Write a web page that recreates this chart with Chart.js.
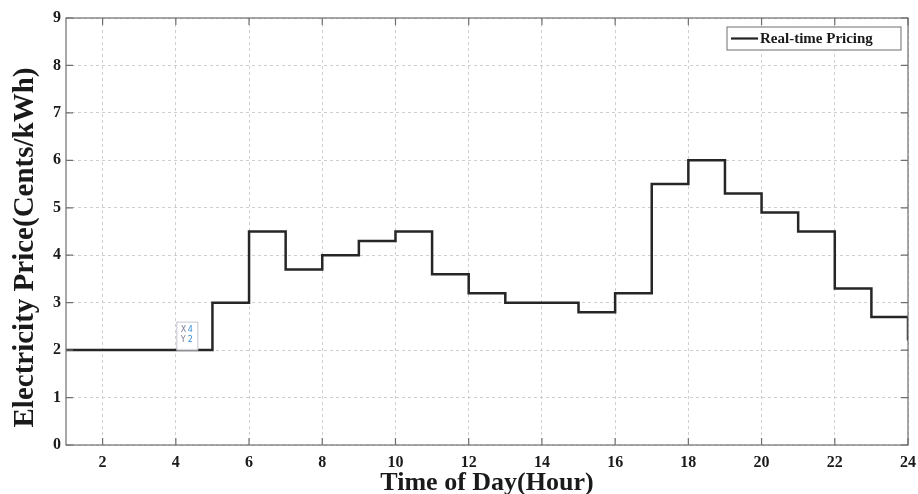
<!DOCTYPE html>
<html>
<head>
<meta charset="utf-8">
<script src="https://cdn.jsdelivr.net/npm/chart.js@4.4.0/dist/chart.umd.min.js"></script>
<style>
  html, body { margin: 0; padding: 0; background: #fff; }
  #wrap { width: 918px; height: 494px; }
</style>
</head>
<body>
<div id="wrap"><canvas id="price_chart" width="918" height="494"></canvas></div>
<script>
const hours = [1, 2, 3, 4, 5, 6, 7, 8, 9, 10, 11, 12, 13, 14, 15, 16, 17, 18, 19, 20, 21, 22, 23, 24];
const prices = [2, 2, 2, 2, 3, 4.5, 3.7, 4.0, 4.3, 4.5, 3.6, 3.2, 3.0, 3.0, 2.8, 3.2, 5.5, 6.0, 5.3, 4.9, 4.5, 3.3, 2.7, 2.2];
const xTickValues = [2, 4, 6, 8, 10, 12, 14, 16, 18, 20, 22, 24];
const yTickValues = [0, 1, 2, 3, 4, 5, 6, 7, 8, 9];
const tipPoint = [4, 2];
const seriesLabel = 'Real-time Pricing';
const yTitle = 'Electricity Price(Cents/kWh)';

const serif = '"Liberation Serif", "Times New Roman", serif';

// matlab style box, inward ticks, y label, legend and data tip
const matlabDecor = {
    id: 'matlabDecor',
    afterDatasetsDraw(chart) {
        const ctx = chart.ctx;
        const a = chart.chartArea;
        const xs = chart.scales.x;
        const ys = chart.scales.y;
        ctx.save();
        ctx.strokeStyle = '#6e6e6e';
        ctx.lineWidth = 1.2;
        ctx.strokeRect(a.left, a.top, a.right - a.left, a.bottom - a.top);
        ctx.beginPath();
        xTickValues.forEach(v => {
            const px = xs.getPixelForValue(v);
            ctx.moveTo(px, a.bottom); ctx.lineTo(px, a.bottom - 7);
            ctx.moveTo(px, a.top); ctx.lineTo(px, a.top + 7);
        });
        yTickValues.forEach(v => {
            const py = ys.getPixelForValue(v);
            ctx.moveTo(a.left, py); ctx.lineTo(a.left + 7, py);
            ctx.moveTo(a.right, py); ctx.lineTo(a.right - 7, py);
        });
        ctx.stroke();

        // y axis label
        ctx.save();
        ctx.translate(26, (a.top + a.bottom) / 2 + 16);
        ctx.rotate(-Math.PI / 2);
        ctx.fillStyle = '#1a1a1a';
        ctx.font = 'bold 29px ' + serif;
        ctx.textAlign = 'center';
        ctx.textBaseline = 'middle';
        ctx.fillText(yTitle, 0, 0);
        ctx.restore();

        // data tip
        const tx = xs.getPixelForValue(tipPoint[0]);
        const ty = ys.getPixelForValue(tipPoint[1]);
        ctx.fillStyle = 'rgba(255,255,255,0.9)';
        ctx.fillRect(tx + 1, ty - 28, 21, 28);
        ctx.strokeStyle = '#c4c4d0';
        ctx.lineWidth = 1;
        ctx.strokeRect(tx + 1, ty - 28, 21, 28);
        ctx.font = '8px "DejaVu Sans", sans-serif';
        ctx.textBaseline = 'middle';
        ctx.textAlign = 'left';
        ctx.fillStyle = '#7a7a96';
        ctx.fillText('X', tx + 5, ty - 20);
        ctx.fillText('Y', tx + 5, ty - 10);
        ctx.fillStyle = '#3a8fd8';
        ctx.fillText(String(tipPoint[0]), tx + 12, ty - 20);
        ctx.fillText(String(tipPoint[1]), tx + 12, ty - 10);

        // legend
        const lx = a.right - 181, ly = a.top + 9, lw = 174, lh = 23;
        ctx.fillStyle = '#fff';
        ctx.fillRect(lx, ly, lw, lh);
        ctx.strokeStyle = '#6e6e6e';
        ctx.strokeRect(lx, ly, lw, lh);
        ctx.strokeStyle = '#222';
        ctx.lineWidth = 2.2;
        ctx.beginPath();
        ctx.moveTo(lx + 4, ly + lh / 2);
        ctx.lineTo(lx + 31, ly + lh / 2);
        ctx.stroke();
        ctx.fillStyle = '#1a1a1a';
        ctx.font = 'bold 15px ' + serif;
        ctx.fillText(seriesLabel, lx + 33, ly + lh / 2 + 1);
        ctx.restore();
    }
};

const ctx = document.getElementById('price_chart').getContext('2d');
const priceChart = new Chart(ctx, {
    type: 'line',
    data: {
        datasets: [{
            label: seriesLabel,
            data: hours.map((h, i) => ({x: h, y: prices[i]})),
            stepped: true,
            borderColor: '#262626',
            borderWidth: 2.5,
            pointRadius: 0,
            fill: false
        }]
    },
    options: {
        responsive: false,
        animation: false,
        layout: {padding: {top: 18, right: 10, left: 0, bottom: 0}},
        scales: {
            x: {
                type: 'linear',
                min: 1,
                max: 24,
                afterBuildTicks: scale => {
                    scale.ticks = xTickValues.map(v => ({value: v}));
                },
                afterFit: scale => {
                    scale.height = 49;
                    scale.paddingRight = 0;
                    scale.paddingLeft = 0;
                },
                grid: {
                    color: '#cfcfcf',
                    lineWidth: 1,
                    drawTicks: false
                },
                border: {display: false, dash: [3, 3]},
                ticks: {
                    color: '#1a1a1a',
                    padding: 8,
                    font: {family: serif, size: 16, weight: 'bold'}
                },
                title: {
                    display: true,
                    text: 'Time of Day(Hour)',
                    color: '#1a1a1a',
                    padding: {top: 0, bottom: -5},
                    font: {family: serif, size: 26, weight: 'bold'}
                }
            },
            y: {
                min: 0,
                max: 9,
                afterBuildTicks: scale => {
                    scale.ticks = yTickValues.map(v => ({value: v}));
                },
                afterFit: scale => {
                    scale.width = 66;
                    scale.paddingTop = 0;
                    scale.paddingBottom = 0;
                },
                grid: {
                    color: '#cfcfcf',
                    lineWidth: 1,
                    drawTicks: false
                },
                border: {display: false, dash: [3, 3]},
                ticks: {
                    color: '#1a1a1a',
                    padding: 5,
                    font: {family: serif, size: 16, weight: 'bold'}
                }
            }
        },
        plugins: {
            legend: {display: false},
            tooltip: {enabled: false}
        }
    },
    plugins: [matlabDecor]
});
</script>
</body>
</html>
